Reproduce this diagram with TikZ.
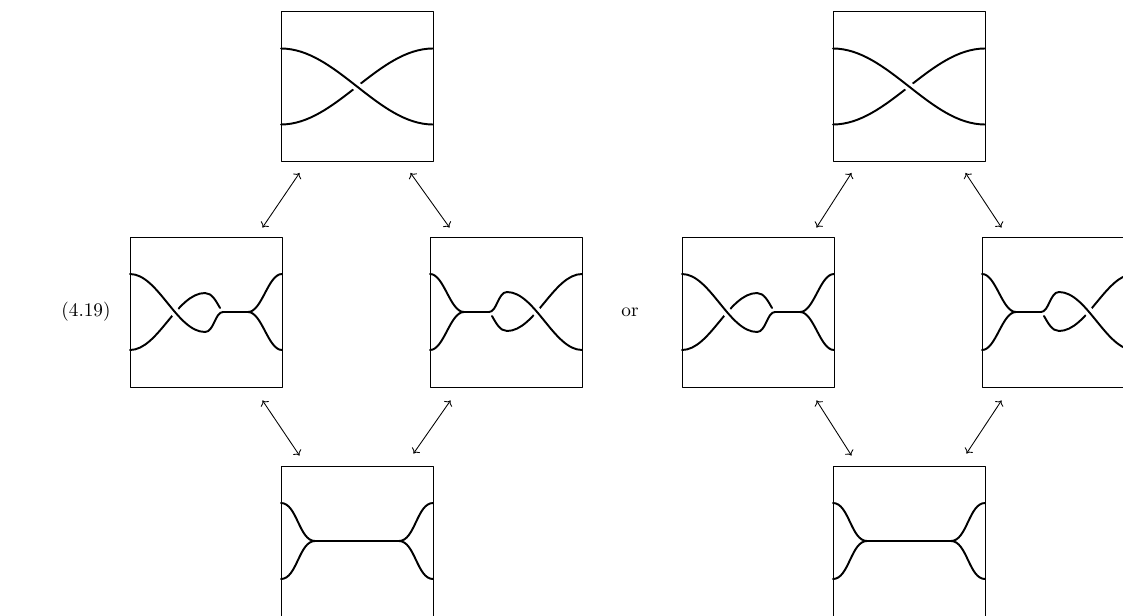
\documentclass[tikz,border=0pt]{standalone}
\usetikzlibrary{arrows.meta,calc}
\tikzset{
 strand/.style={line width=1pt},
 over/.style={preaction={draw,white,line width=4.6pt}},
 panel/.style={draw,line width=.5pt,minimum width=79.04pt,minimum height=78pt,inner sep=0pt},
 move/.style={{To[length=2.4pt,width=5pt]}-{To[length=2.4pt,width=5pt]},line width=.45pt},
}
% One crossing across the panel.
\newcommand\twistcross{%
 \draw[strand] (-76,-38) .. controls (-21,-38) and (21,38) .. (76,38);
 \draw[strand,over] (-76,38) .. controls (-21,38) and (21,-38) .. (76,-38);
}
% Crossing, bubble and a joined band.
\newcommand\bubblecross{%
 \draw[strand] (-76,-38) .. controls (-48,-38) and (-29,19) .. (-1,19)
  .. controls (6,19) and (10,11) .. (14,4);
 \draw[strand,over] (-76,38) .. controls (-48,38) and (-29,-20) .. (-1,-20);
 \draw[strand] (-1,-20) .. controls (8,-20) and (9,0) .. (17,0) -- (42,0)
  .. controls (56,0) and (62,38) .. (76,38);
 \draw[strand] (42,0) .. controls (56,0) and (62,-38) .. (76,-38);
}
% Two joins with a flat band.
\newcommand\flatjoin{%
 \draw[strand] (-76,38) .. controls (-60,38) and (-58,0) .. (-42,0) -- (42,0)
  .. controls (58,0) and (60,38) .. (76,38);
 \draw[strand] (-76,-38) .. controls (-60,-38) and (-58,0) .. (-42,0);
 \draw[strand] (42,0) .. controls (58,0) and (60,-38) .. (76,-38);
}
\begin{document}
\begin{tikzpicture}[x=.52pt,y=.52pt,line cap=round,line join=round]
 \useasboundingbox (0,0) rectangle (1123,615);
 \clip (0,0) rectangle (1123,615);
 \coordinate (clt) at (357,528.5);
 \coordinate (clm1) at (206,303);
 \coordinate (clm2) at (506,303);
 \coordinate (clb) at (357,74);
 \coordinate (crt) at (909,528.5);
 \coordinate (crm1) at (758,303);
 \coordinate (crm2) at (1058,303);
 \coordinate (crb) at (909,74);
 % Strands, left.
 \begin{scope}[shift={(clt)}] \twistcross \end{scope}
 \begin{scope}[shift={(clm1)}] \bubblecross \end{scope}
 \begin{scope}[shift={(clm2)},rotate=180] \bubblecross \end{scope}
 \begin{scope}[shift={(clb)}] \flatjoin \end{scope}
 % Strands, right.
 \begin{scope}[shift={(crt)}] \twistcross \end{scope}
 \begin{scope}[shift={(crm1)}] \bubblecross \end{scope}
 \begin{scope}[shift={(crm2)},rotate=180] \bubblecross \end{scope}
 \begin{scope}[shift={(crb)}] \flatjoin \end{scope}
 % Panels.
 \node[panel] (lt) at (clt) {};
 \node[panel] (lm1) at (clm1) {};
 \node[panel] (lm2) at (clm2) {};
 \node[panel] (lb) at (clb) {};
 \node[panel] (rt) at (crt) {};
 \node[panel] (rm1) at (crm1) {};
 \node[panel] (rm2) at (crm2) {};
 \node[panel] (rb) at (crb) {};
 % Moves, left.
 \draw[move] ($(lm1.north east)+(-20,9)$) -- ($(lt.south west)+(19,-11)$);
 \draw[move] ($(lt.south east)+(-23,-11)$) -- ($(lm2.north west)+(20,9)$);
 \draw[move] ($(lm1.south east)+(-20,-13)$) -- ($(lb.north west)+(19,10)$);
 \draw[move] ($(lm2.south west)+(21,-13)$) -- ($(lb.north east)+(-20,12)$);
 % Moves, right.
 \draw[move] ($(rm1.north east)+(-18,9)$) -- ($(rt.south west)+(19,-11)$);
 \draw[move] ($(rt.south east)+(-20,-11)$) -- ($(rm2.north west)+(20,9)$);
 \draw[move] ($(rm1.south east)+(-18,-13)$) -- ($(rb.north west)+(19,10)$);
 \draw[move] ($(rm2.south west)+(20,-13)$) -- ($(rb.north east)+(-19,12)$);
 % Labels.
 \node (num) at (86,303) {(4.19)};
 \node (or) at (630,303) {or};
\end{tikzpicture}
\end{document}
